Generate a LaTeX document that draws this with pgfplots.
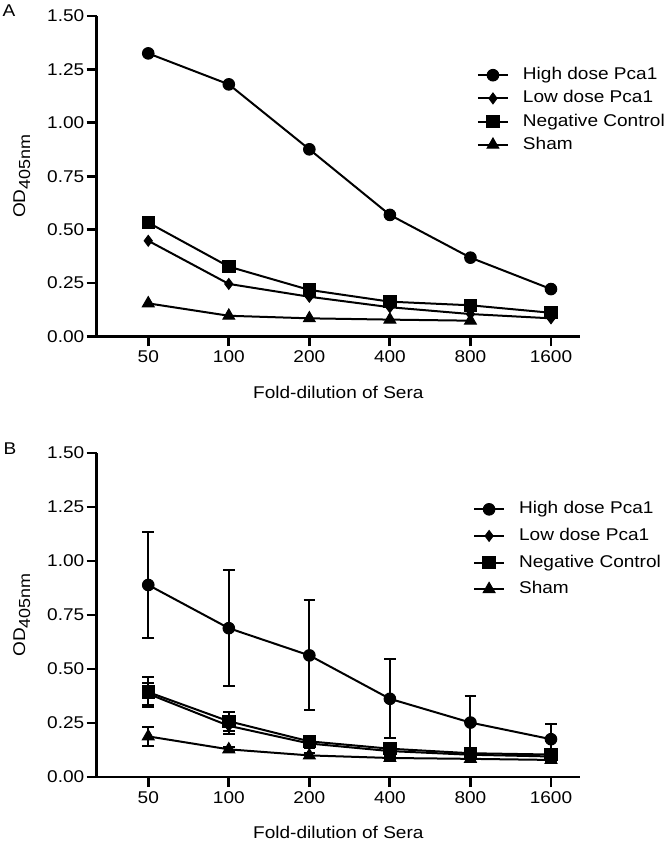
\documentclass[border=0pt]{standalone}
\usepackage{fontspec}
\setmainfont{Liberation Sans}[FakeStretch=1.12]
\usepackage{pgfplots}
\pgfplotsset{compat=1.18}
\begin{document}
\begin{tikzpicture}
\useasboundingbox (0,0) rectangle (333pt,420.5pt);
\pgfplotsset{
  myaxis/.style={
    scale only axis,
    width=241.65pt,
    axis lines=left,
    axis line style={-, line width=1.4pt},
    tick align=outside,
    major tick length=5pt,
    tick style={line width=1.4pt, black},
    font=\fontsize{8.5pt}{10pt}\selectfont,
    /pgf/number format/assume math mode=true,
    xmin=-0.64, xmax=5.36,
    ymin=0, ymax=1.5,
    xtick={0,1,2,3,4,5},
    xticklabels={50,100,200,400,800,1600},
    ytick={0,0.25,0.5,0.75,1,1.25,1.5},
    yticklabel style={inner sep=1pt, /pgf/number format/fixed, /pgf/number format/fixed zerofill, /pgf/number format/precision=2},
    xticklabel style={inner sep=2pt},
    xlabel={Fold-dilution of Sera},
    ylabel={OD\raisebox{-2.6pt}{\fontsize{8pt}{9pt}\selectfont 405nm}},
    ylabel style={at={(axis description cs:-0.155,0.5)}, anchor=center, rotate=0},
    clip=false,
    legend cell align=left,
    legend image code/.code={
      \draw[mark repeat=2, mark phase=2, #1] plot coordinates {(0pt,0pt) (7.5pt,0pt) (15pt,0pt)};
    },
    every axis plot/.append style={black, line width=1pt, mark options={solid, line width=0.5pt}},
  },
  hi/.style={mark=*, mark size=2.9pt},
  lo/.style={mark=diamond*, mark size=2.7pt},
  ng/.style={mark=square*, mark size=3.1pt},
  sh/.style={mark=triangle*, mark size=3.4pt},
}
% Top panel
\begin{axis}[myaxis,
  at={(48.35pt,252.25pt)}, anchor=south west,
  height=160.25pt,
  xlabel style={at={(axis description cs:0.5,-0.176)}, anchor=center},
  legend style={at={(0.786,0.7067)}, anchor=west, draw=none, fill=none,
    inner sep=0pt, row sep=3.6pt, column sep=7pt,
    nodes={inner sep=0pt, text height=6.3pt, text depth=1.7pt}},
]
\addplot[hi] coordinates {(0,1.325) (1,1.18) (2,0.876) (3,0.569) (4,0.369) (5,0.222)};
\addlegendentry{High dose Pca1}
\addplot[lo] coordinates {(0,0.448) (1,0.246) (2,0.186) (3,0.137) (4,0.105) (5,0.085)};
\addlegendentry{Low dose Pca1}
\addplot[ng] coordinates {(0,0.533) (1,0.327) (2,0.218) (3,0.163) (4,0.146) (5,0.111)};
\addlegendentry{Negative Control}
\addplot[sh] coordinates {(0,0.155) (1,0.097) (2,0.085) (3,0.079) (4,0.074)};
\addlegendentry{Sham}
\end{axis}
% Bottom panel
\begin{axis}[myaxis,
  at={(48.35pt,32pt)}, anchor=south west,
  height=162pt,
  xlabel style={at={(axis description cs:0.5,-0.170)}, anchor=center},
  legend style={at={(0.778,0.703)}, anchor=west, draw=none, fill=none,
    inner sep=0pt, row sep=5.3pt, column sep=7pt,
    nodes={inner sep=0pt, text height=6.3pt, text depth=1.7pt}},
  error bars/error bar style={line width=1pt},
  error bars/error mark options={rotate=90, mark size=2.9pt, line width=1pt},
]
\addplot[hi, error bars/.cd, y dir=both, y explicit] coordinates {
  (0,0.889) +- (0,0.244) (1,0.689) +- (0,0.268) (2,0.563) +- (0,0.255)
  (3,0.362) +- (0,0.183) (4,0.252) +- (0,0.122) (5,0.175) +- (0,0.070)};
\addlegendentry{High dose Pca1}
\addplot[lo, error bars/.cd, y dir=both, y explicit] coordinates {
  (0,0.385) +- (0,0.05) (1,0.237) +- (0,0.04) (2,0.155) +- (0,0.02)
  (3,0.120) +- (0,0.015) (4,0.103) +- (0,0.012) (5,0.095) +- (0,0.01)};
\addlegendentry{Low dose Pca1}
\addplot[ng, error bars/.cd, y dir=both, y explicit] coordinates {
  (0,0.393) +- (0,0.068) (1,0.258) +- (0,0.045) (2,0.165) +- (0,0.02)
  (3,0.131) +- (0,0.015) (4,0.110) +- (0,0.012) (5,0.104) +- (0,0.01)};
\addlegendentry{Negative Control}
\addplot[sh, error bars/.cd, y dir=both, y explicit] coordinates {
  (0,0.188) +- (0,0.045) (1,0.128) +- (0,0.012) (2,0.100) +- (0,0.01)
  (3,0.088) +- (0,0.008) (4,0.084) +- (0,0.008) (5,0.079) +- (0,0.008)};
\addlegendentry{Sham}
\end{axis}
\node at (4.5pt,415pt) {\fontsize{8.5pt}{10pt}\selectfont A};
\node at (5pt,196.3pt) {\fontsize{8.5pt}{10pt}\selectfont B};
\end{tikzpicture}
\end{document}
